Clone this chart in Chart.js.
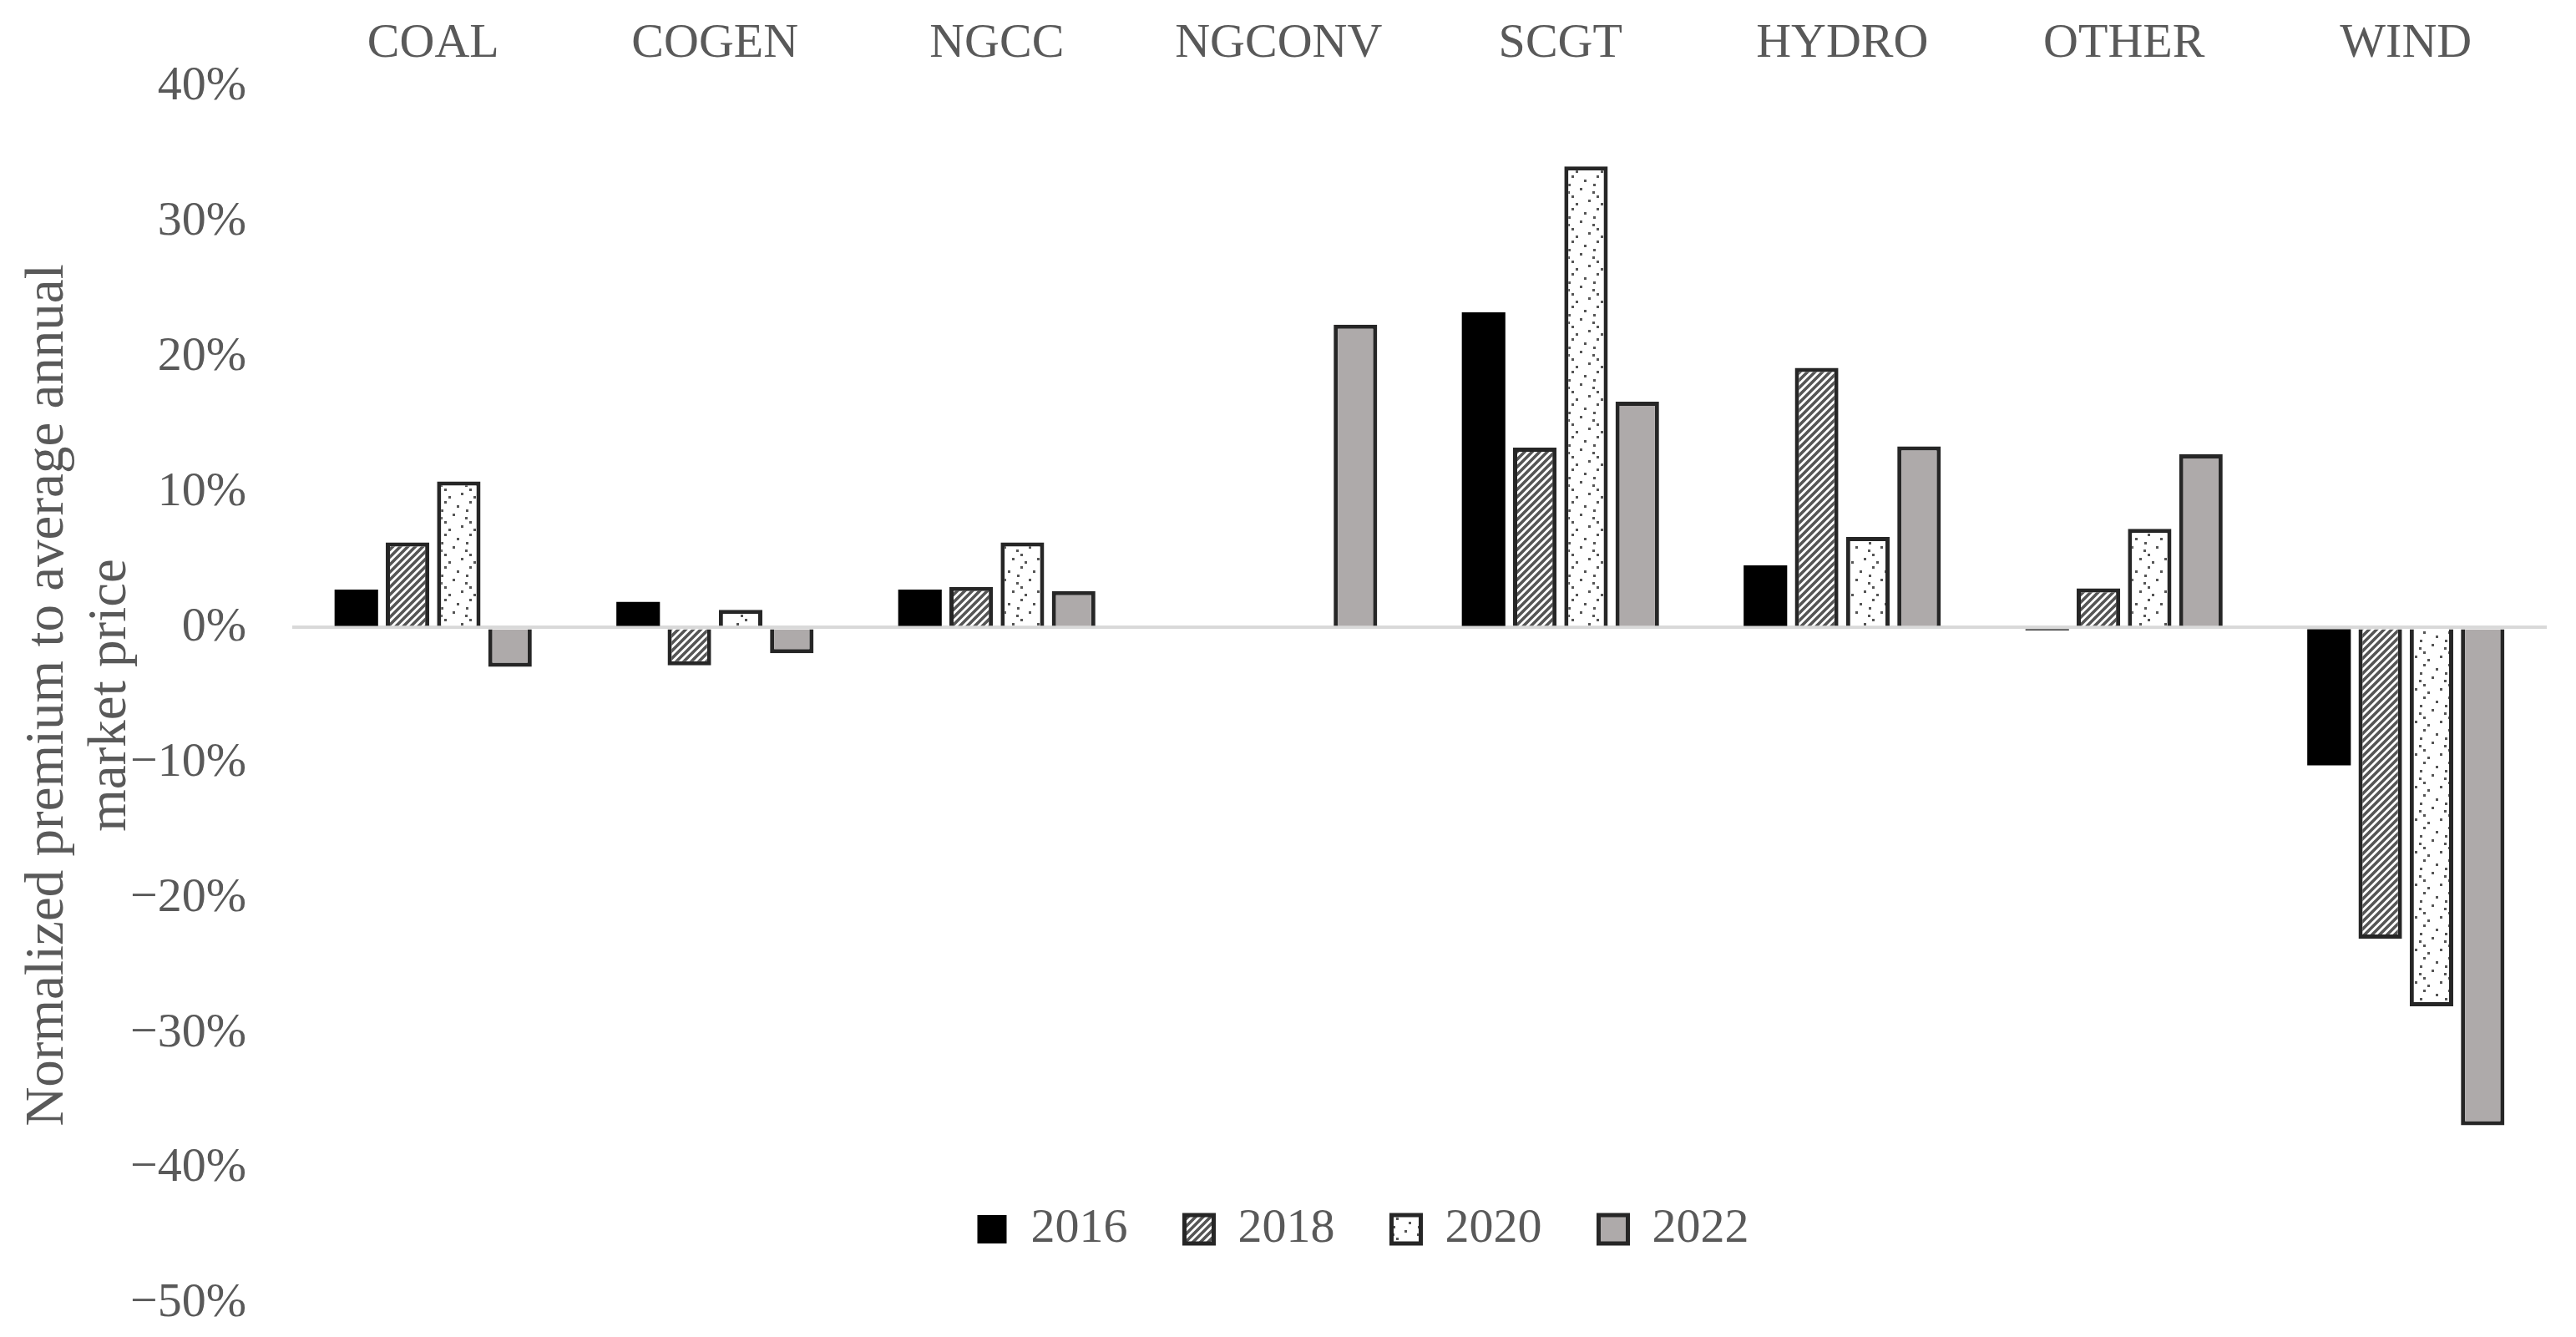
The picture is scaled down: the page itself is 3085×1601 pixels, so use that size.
<!DOCTYPE html>
<html lang="en">
<head>
    <meta charset="UTF-8">
    <title>Normalized premium to average annual market price</title>
    <script src="https://cdn.jsdelivr.net/npm/chart.js"></script>
    <style>
        body { margin: 0; background: #fff; }
        #wrap { width: 3085px; height: 1601px; }
    </style>
</head>
<body>
    <div id="wrap"><canvas id="premiumChart"></canvas></div>

    <script>
        // values, % premium per technology
        const categories = ["COAL", "COGEN", "NGCC", "NGCONV", "SCGT", "HYDRO", "OTHER", "WIND"];
        const years = ["2016", "2018", "2020", "2022"];
        const values2016 = [2.8, 1.9, 2.8, null, 23.3, 4.6, -0.2, -10.2];
        const values2018 = [6.3, -2.8, 3.0, null, 13.3, 19.2, 2.9, -23.0];
        const values2020 = [10.8, 1.3, 6.3, null, 34.1, 6.7, 7.3, -28.0];
        const values2022 = [-2.9, -1.9, 2.7, 22.4, 16.7, 13.4, 12.8, -36.8];
        const yTicks = [40, 30, 20, 10, 0, -10, -20, -30, -40, -50];

        const textColor = "#595959";
        const serif = "'Liberation Serif', 'Times New Roman', serif";

        function hatchPattern() {
            const c = document.createElement("canvas");
            const s = 9;
            c.width = s; c.height = s;
            const g = c.getContext("2d");
            g.fillStyle = "#fff";
            g.fillRect(0, 0, s, s);
            g.strokeStyle = "#555";
            g.lineWidth = 3.6;
            g.beginPath();
            g.moveTo(-2, s + 2); g.lineTo(s + 2, -2);
            g.moveTo(-2, 2); g.lineTo(2, -2);
            g.moveTo(s - 2, s + 2); g.lineTo(s + 2, s - 2);
            g.stroke();
            return g.createPattern(c, "repeat");
        }

        function dotPattern() {
            const c = document.createElement("canvas");
            c.width = 30; c.height = 39;
            const g = c.getContext("2d");
            g.fillStyle = "#fff";
            g.fillRect(0, 0, 30, 39);
            g.fillStyle = "#555";
            [[12, 5], [27, 9], [22, 15], [7, 20], [18, 25], [2, 30], [17, 34], [22, 0]].forEach(p => {
                g.fillRect(p[0], p[1], 3, 3);
            });
            return g.createPattern(c, "repeat");
        }

        // puts the legend inside the plot, under the bars
        const legendLevel = -44.5;
        const legendInside = {
            id: "legendInside",
            afterLayout(chart) {
                const lg = chart.legend;
                const area = chart.chartArea;
                const pad = lg.options.labels.padding;
                const size = lg.options.labels.font.size;
                const top = chart.scales.y.getPixelForValue(legendLevel) - pad - size / 2;
                const center = area.left + (area.right - area.left) * 0.475;
                lg.top = top;
                lg.bottom = top + lg.height;
                lg.left = center - 1500;
                lg.right = center + 1500;
                lg.width = 3000;
            }
        };

        const ctx = document.getElementById("premiumChart").getContext("2d");
        new Chart(ctx, {
            type: "bar",
            data: {
                labels: categories,
                datasets: [
                    { label: years[0], data: values2016, backgroundColor: "#000", borderWidth: 0 },
                    { label: years[1], data: values2018, backgroundColor: hatchPattern(), borderColor: "#262626", borderWidth: 5 },
                    { label: years[2], data: values2020, backgroundColor: dotPattern(), borderColor: "#262626", borderWidth: 5 },
                    { label: years[3], data: values2022, backgroundColor: "#aeaaaa", borderColor: "#262626", borderWidth: 5 }
                ]
            },
            options: {
                responsive: true,
                maintainAspectRatio: false,
                animation: false,
                categoryPercentage: 0.727,
                barPercentage: 0.85,
                layout: { padding: { top: 10, right: 35, bottom: -98, left: 0 } },
                plugins: {
                    tooltip: { enabled: false },
                    legend: {
                        position: "bottom",
                        labels: {
                            color: textColor,
                            font: { family: serif, size: 58 },
                            boxWidth: 35,
                            boxHeight: 34,
                            padding: 68
                        }
                    }
                },
                scales: {
                    x: {
                        position: "top",
                        grid: { display: false },
                        border: { display: false },
                        ticks: {
                            color: textColor,
                            font: { family: serif, size: 58 },
                            padding: 8,
                            maxRotation: 0
                        }
                    },
                    y: {
                        min: yTicks[yTicks.length - 1],
                        max: yTicks[0],
                        afterFit(scale) { scale.width = 350; },
                        afterBuildTicks(scale) { scale.ticks = yTicks.map(v => ({ value: v })); },
                        border: { display: false },
                        grid: {
                            drawTicks: true,
                            tickLength: 50,
                            tickColor: "rgba(0,0,0,0)",
                            lineWidth: 4,
                            color: c => (c.tick && c.tick.value === 0 ? "#d9d9d9" : "rgba(0,0,0,0)")
                        },
                        ticks: {
                            color: textColor,
                            font: { family: serif, size: 58 },
                            padding: 5,
                            callback: v => (v < 0 ? "\u2212" : "") + Math.abs(v) + "%"
                        },
                        title: {
                            display: true,
                            text: ["Normalized premium to average annual", "market price"],
                            color: textColor,
                            font: { family: serif, size: 65, lineHeight: 1.15 },
                            padding: { top: 21, bottom: 0 }
                        }
                    }
                }
            },
            plugins: [legendInside]
        });
    </script>
</body>
</html>
